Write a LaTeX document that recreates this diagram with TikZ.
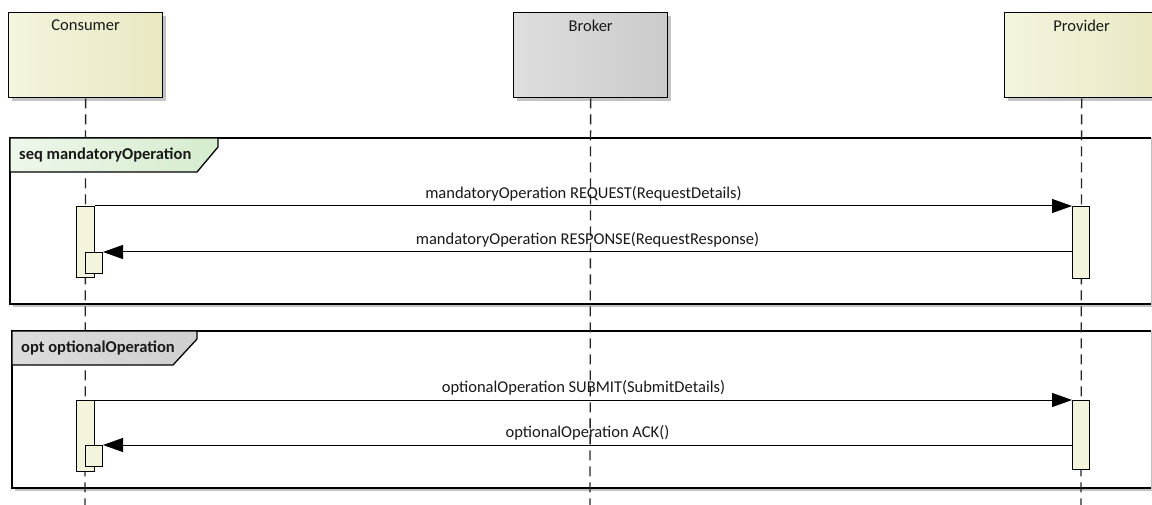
\documentclass[tikz,border=0pt]{standalone}
\usepackage{fontspec}
\setmainfont{Carlito}
\usetikzlibrary{arrows.meta,calc}
\definecolor{actfill}{HTML}{F4F3DC}
\definecolor{headL}{HTML}{F5F4DE}
\definecolor{headR}{HTML}{E9E8C2}
\definecolor{brokL}{HTML}{DEDEDE}
\definecolor{brokR}{HTML}{CBCBCB}
\definecolor{seqL}{HTML}{EEF7EA}
\definecolor{seqR}{HTML}{D5ECCD}
\definecolor{optL}{HTML}{DCDCDC}
\definecolor{optR}{HTML}{CFCFCF}
\definecolor{shad}{HTML}{C4C4C4}
\begin{document}
\begin{tikzpicture}[x=1pt,y=-1pt,
  every node/.style={font=\fontsize{16.5}{19}\selectfont, text=black!90},
  lifebox/.style={draw=black, line width=1.3pt, rectangle, anchor=north west, inner sep=0pt},
  lifeline/.style={black!85, line width=1.3pt, dash pattern=on 10pt off 6pt},
  act/.style={draw=black, line width=1pt, fill=actfill, rectangle, anchor=north west, inner sep=0pt},
  msg/.style={black, line width=1pt, -{Triangle[length=20pt,width=14pt]}},
  msglabel/.style={anchor=south, inner sep=0pt, yshift=4pt},
  frameline/.style={draw=black, line width=1.3pt},
  tablabel/.style={font=\fontsize{16.5}{19}\selectfont\bfseries, anchor=west, inner sep=0pt}
]
\useasboundingbox (0,0) rectangle (1152,505);
\fill[white] (0,0) rectangle (1152,505);

% shadows of headers
\fill[shad] (12,16) rectangle (166,101);
\fill[shad] (517,16) rectangle (671,101);
\fill[shad] (1008,16) rectangle (1162,101);

% headers
\node[lifebox, left color=headL, right color=headR, minimum width=154pt, minimum height=85pt] (cons) at (8,12) {};
\node[lifebox, left color=brokL, right color=brokR, minimum width=154pt, minimum height=85pt] (brok) at (513,12) {};
\node[lifebox, left color=headL, right color=headR, minimum width=154pt, minimum height=85pt] (prov) at (1004,12) {};
\node[anchor=north, inner sep=0pt] (consT) at ($(cons.north)+(0,8)$) {Consumer};
\node[anchor=north, inner sep=0pt] (brokT) at ($(brok.north)+(0,8)$) {Broker};
\node[anchor=north, inner sep=0pt] (provT) at ($(prov.north)+(0,8)$) {Provider};

% lifeline ends
\coordinate (consE) at (85,505);
\coordinate (brokE) at (590,505);
\coordinate (provE) at (1081,505);

% frame 1
\fill[shad] (13,141) rectangle (1156,307);
\fill[white] (10,138) rectangle (1151,304);
\draw[black!25, line width=1pt] (1151,138) -- (1151,304);
\draw[frameline] (1151,138) -- (10,138) -- (10,304) -- (1151,304);

% frame 2
\fill[shad] (15,334) rectangle (1156,491);
\fill[white] (12,331) rectangle (1151,488);
\draw[black!25, line width=1pt] (1151,331) -- (1151,488);
\draw[frameline] (1151,331) -- (12,331) -- (12,488) -- (1151,488);

% lifelines
\draw[lifeline] (cons.south) -- (consE);
\draw[lifeline] (brok.south) -- (brokE);
\draw[lifeline] (prov.south) -- (provE);

% tabs
\draw[frameline, left color=seqL, right color=seqR] (10,138) -- (218,138) -- (218,147) -- (197,172) -- (10,172) -- cycle;
\node[tablabel] (seqT) at (19,155) {seq mandatoryOperation};
\draw[frameline, left color=optL, right color=optR] (12,331) -- (197,331) -- (197,339) -- (173,365) -- (12,365) -- cycle;
\node[tablabel] (optT) at (21,348) {opt optionalOperation};

% activations frame 1
\node[act, minimum width=18pt, minimum height=71pt] (ca1) at (76,206) {};
\node[act, minimum width=17pt, minimum height=21pt] (cn1) at (85,252) {};
\node[act, minimum width=17pt, minimum height=72pt] (pa1) at (1072,206) {};

\draw[msg] (ca1.north east) -- (pa1.north west)
  node[msglabel, midway] (m1) {mandatoryOperation REQUEST(RequestDetails)};
\draw[msg] (pa1.west |- cn1.north east) -- (cn1.north east)
  node[msglabel, midway] (m2) {mandatoryOperation RESPONSE(RequestResponse)};

% activations frame 2
\node[act, minimum width=18pt, minimum height=71pt] (ca2) at (76,400) {};
\node[act, minimum width=17pt, minimum height=21pt] (cn2) at (85,445) {};
\node[act, minimum width=17pt, minimum height=69pt] (pa2) at (1072,400) {};

\draw[msg] (ca2.north east) -- (pa2.north west)
  node[msglabel, midway] (m3) {optionalOperation SUBMIT(SubmitDetails)};
\draw[msg] (pa2.west |- cn2.north east) -- (cn2.north east)
  node[msglabel, midway] (m4) {optionalOperation ACK()};
\end{tikzpicture}
\end{document}
